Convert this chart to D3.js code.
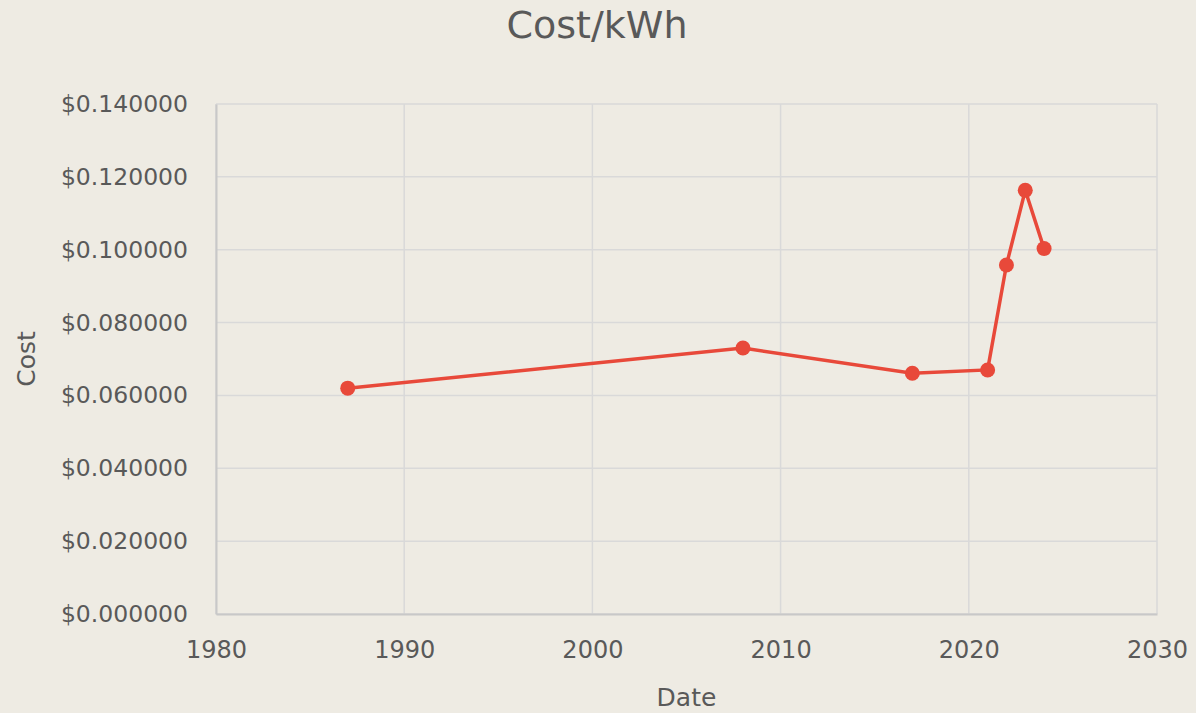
<!DOCTYPE html>
<html>
<head>
<meta charset="utf-8">
<script src="https://cdn.jsdelivr.net/npm/d3@7"></script>
<style>
  body { margin: 0; background: #eeebe3; }
  svg text { font-family: "DejaVu Sans", Verdana, sans-serif; fill: #595959; }
</style>
</head>
<body>
<div id="chart"></div>
<script>
// data
var years = [1987, 2008, 2017, 2021, 2022, 2023, 2024];
var costs = [0.0620, 0.0730, 0.0661, 0.0670, 0.0958, 0.1163, 0.1003];
var xTicks = [1980, 1990, 2000, 2010, 2020, 2030];
var yTicks = [0, 0.02, 0.04, 0.06, 0.08, 0.10, 0.12, 0.14];

var svgWidth = 1196;
var svgHeight = 713;

var margin = { top: 104, right: 39, bottom: 99, left: 216 };
var width = svgWidth - margin.left - margin.right;
var height = svgHeight - margin.top - margin.bottom;

var svg = d3.select("#chart")
  .append("svg")
  .attr("width", svgWidth)
  .attr("height", svgHeight);

svg.append("rect")
  .attr("width", svgWidth)
  .attr("height", svgHeight)
  .attr("fill", "#eeebe3");

var chartGroup = svg.append("g")
  .attr("transform", `translate(${margin.left}, ${margin.top})`);

var xScale = d3.scaleLinear().domain([1980, 2030]).range([0, width]);
var yScale = d3.scaleLinear().domain([0, 0.14]).range([height, 0]);

// gridlines
chartGroup.append("g")
  .selectAll("line")
  .data(yTicks)
  .enter()
  .append("line")
  .attr("x1", 0)
  .attr("x2", width)
  .attr("y1", d => yScale(d))
  .attr("y2", d => yScale(d))
  .attr("stroke", "#d9d9d9")
  .attr("stroke-width", 1.5);

chartGroup.append("g")
  .selectAll("line")
  .data(xTicks)
  .enter()
  .append("line")
  .attr("x1", d => xScale(d))
  .attr("x2", d => xScale(d))
  .attr("y1", 0)
  .attr("y2", height)
  .attr("stroke", "#d9d9d9")
  .attr("stroke-width", 1.5);

// axes
var xAxis = d3.axisBottom(xScale)
  .tickValues(xTicks)
  .tickFormat(d3.format("d"))
  .tickSize(0)
  .tickPadding(27);

var yAxis = d3.axisLeft(yScale)
  .tickValues(yTicks)
  .tickFormat(d => "$" + d.toFixed(6))
  .tickSize(0)
  .tickPadding(28);

var gx = chartGroup.append("g")
  .attr("transform", `translate(0, ${height})`)
  .attr("color", "#595959")
  .call(xAxis);
gx.select(".domain").attr("stroke", "#c8c8c8").attr("stroke-width", 2);
gx.selectAll("text").attr("font-size", 24).style("font-family", null);

var gy = chartGroup.append("g").attr("color", "#595959").call(yAxis);
gy.select(".domain").attr("stroke", "#c8c8c8").attr("stroke-width", 2);
gy.selectAll("text").attr("font-size", 23.5).style("font-family", null);

// line + dots
var points = years.map((y, i) => ({ year: y, cost: costs[i] }));

var line = d3.line()
  .x(d => xScale(d.year))
  .y(d => yScale(d.cost));

chartGroup.append("path")
  .datum(points)
  .attr("d", line)
  .attr("fill", "none")
  .attr("stroke", "#e8493a")
  .attr("stroke-width", 3.5);

chartGroup.selectAll("circle")
  .data(points)
  .enter()
  .append("circle")
  .attr("cx", d => xScale(d.year))
  .attr("cy", d => yScale(d.cost))
  .attr("r", 7.5)
  .attr("fill", "#e8493a");

// titles
svg.append("text")
  .attr("x", 597)
  .attr("y", 38)
  .attr("text-anchor", "middle")
  .attr("font-size", 38)
  .text("Cost/kWh");

svg.append("text")
  .attr("x", margin.left + width / 2)
  .attr("y", 706)
  .attr("text-anchor", "middle")
  .attr("font-size", 25)
  .text("Date");

svg.append("text")
  .attr("transform", "rotate(-90)")
  .attr("x", -(margin.top + height / 2))
  .attr("y", 35)
  .attr("text-anchor", "middle")
  .attr("font-size", 25)
  .text("Cost");
</script>
</body>
</html>
